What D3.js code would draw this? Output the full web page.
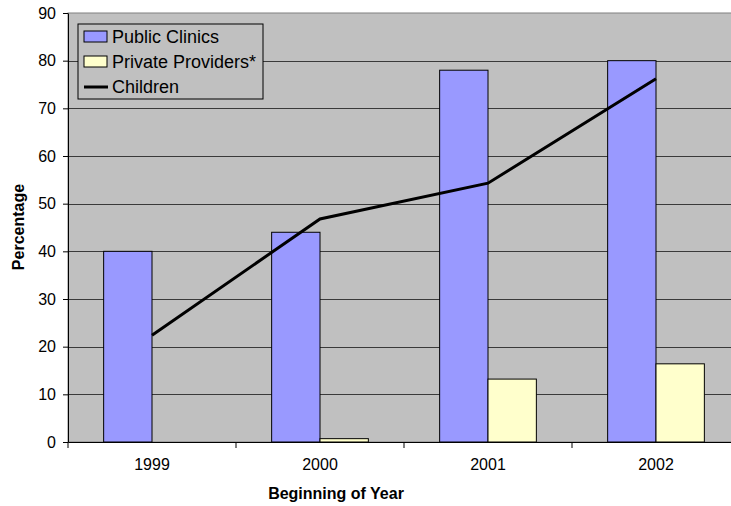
<!DOCTYPE html>
<html>
<head>
<meta charset="utf-8">
<script src="https://cdn.jsdelivr.net/npm/d3@7"></script>
<style>
  html, body { margin: 0; padding: 0; background: #ffffff; }
  svg { display: block; font-family: "Liberation Sans", Arial, sans-serif; }
</style>
</head>
<body>
<div id="chart"></div>
<script>
const years = ['1999', '2000', '2001', '2002'];
const publicClinics = [40, 44, 78, 80];
const privateProviders = [0, 0.7, 13.2, 16.4];
const children = [22.4, 46.8, 54.3, 76.2];
const yTicks = [0, 10, 20, 30, 40, 50, 60, 70, 80, 90];

const width = 731;
const height = 506;
const plot = { left: 68, top: 13, right: 740, bottom: 442 };

const svg = d3.select('#chart')
  .append('svg')
  .attr('width', width)
  .attr('height', height);

const x = d3.scaleBand()
  .domain(years)
  .range([plot.left, plot.right])
  .paddingInner(0)
  .paddingOuter(0);

const inner = d3.scaleBand()
  .domain(['public', 'private'])
  .range([0, x.bandwidth()])
  .paddingOuter(0.737)
  .paddingInner(0);

const y = d3.scaleLinear()
  .domain([0, 90])
  .range([plot.bottom, plot.top]);

// plot background
svg.append('rect')
  .attr('x', plot.left)
  .attr('y', plot.top)
  .attr('width', plot.right - plot.left)
  .attr('height', plot.bottom - plot.top)
  .attr('fill', '#c0c0c0')
  .attr('stroke', '#808080')
  .attr('stroke-width', 1);

// gridlines
svg.append('g')
  .selectAll('line')
  .data(yTicks.filter((d) => d > 0 && d < 90))
  .enter()
  .append('line')
  .attr('x1', plot.left)
  .attr('x2', plot.right)
  .attr('y1', (d) => Math.round(y(d)) + 0.5)
  .attr('y2', (d) => Math.round(y(d)) + 0.5)
  .attr('stroke', '#3a3a3a')
  .attr('stroke-width', 1);

// bars
const groups = svg.append('g')
  .selectAll('g')
  .data(years)
  .enter()
  .append('g')
  .attr('transform', (d) => `translate(${x(d)},0)`);

groups.append('rect')
  .attr('x', inner('public'))
  .attr('y', (d, i) => y(publicClinics[i]))
  .attr('width', inner.bandwidth())
  .attr('height', (d, i) => y(0) - y(publicClinics[i]))
  .attr('fill', '#9999ff')
  .attr('stroke', '#000')
  .attr('stroke-width', 1);

groups.filter((d, i) => privateProviders[i] > 0)
  .append('rect')
  .attr('x', inner('private'))
  .attr('y', (d) => y(privateProviders[years.indexOf(d)]))
  .attr('width', inner.bandwidth())
  .attr('height', (d) => y(0) - y(privateProviders[years.indexOf(d)]))
  .attr('fill', '#ffffcc')
  .attr('stroke', '#000')
  .attr('stroke-width', 1);

// children line
const line = d3.line()
  .x((d, i) => x(years[i]) + x.bandwidth() / 2)
  .y((d) => y(d));

svg.append('path')
  .datum(children)
  .attr('fill', 'none')
  .attr('stroke', '#000')
  .attr('stroke-width', 3)
  .attr('d', line);

// axes
const yAxis = svg.append('g')
  .attr('transform', `translate(${plot.left},0)`)
  .call(d3.axisLeft(y).tickValues(yTicks).tickSize(5).tickSizeOuter(0).tickPadding(7));

const xAxis = svg.append('g')
  .attr('transform', `translate(0,${plot.bottom})`)
  .call(d3.axisBottom(x).tickSize(0).tickPadding(17));

xAxis.selectAll('.tick')
  .append('line')
  .attr('x1', -x.bandwidth() / 2)
  .attr('x2', -x.bandwidth() / 2)
  .attr('y1', 0)
  .attr('y2', 6)
  .attr('stroke', '#000');

[yAxis, xAxis].forEach((ax) => {
  ax.attr('font-size', 16);
  ax.selectAll('.domain').attr('stroke', '#000');
  ax.selectAll('.tick line').attr('stroke', '#000');
  ax.selectAll('text')
    .attr('font-size', '16px')
    .attr('fill', '#000')
    .attr('font-family', '"Liberation Sans", Arial, sans-serif');
});

// axis titles
svg.append('text')
  .attr('x', 336)
  .attr('y', 499)
  .attr('text-anchor', 'middle')
  .attr('font-size', '16px')
  .attr('font-weight', 'bold')
  .text('Beginning of Year');

svg.append('text')
  .attr('transform', 'translate(24,227) rotate(-90)')
  .attr('text-anchor', 'middle')
  .attr('font-size', '16px')
  .attr('font-weight', 'bold')
  .text('Percentage');

// legend
const legendItems = [
  { label: 'Public Clinics', type: 'rect', color: '#9999ff' },
  { label: 'Private Providers*', type: 'rect', color: '#ffffcc' },
  { label: 'Children', type: 'line', color: '#000' },
];

const legend = svg.append('g')
  .attr('transform', 'translate(78,24)');

legend.append('rect')
  .attr('width', 185)
  .attr('height', 75)
  .attr('fill', '#c0c0c0')
  .attr('stroke', '#000')
  .attr('stroke-width', 1);

legendItems.forEach((d, i) => {
  const row = legend.append('g')
    .attr('transform', `translate(6, ${13 + i * 25})`);

  if (d.type === 'rect') {
    row.append('rect')
      .attr('x', 0)
      .attr('y', -6)
      .attr('width', 23)
      .attr('height', 11)
      .attr('fill', d.color)
      .attr('stroke', '#000');
  } else {
    row.append('line')
      .attr('x1', 0)
      .attr('x2', 24)
      .attr('y1', 0)
      .attr('y2', 0)
      .attr('stroke', d.color)
      .attr('stroke-width', 3);
  }

  row.append('text')
    .attr('x', 28)
    .attr('y', 6)
    .attr('font-size', '18px')
    .text(d.label);
});
</script>
</body>
</html>
